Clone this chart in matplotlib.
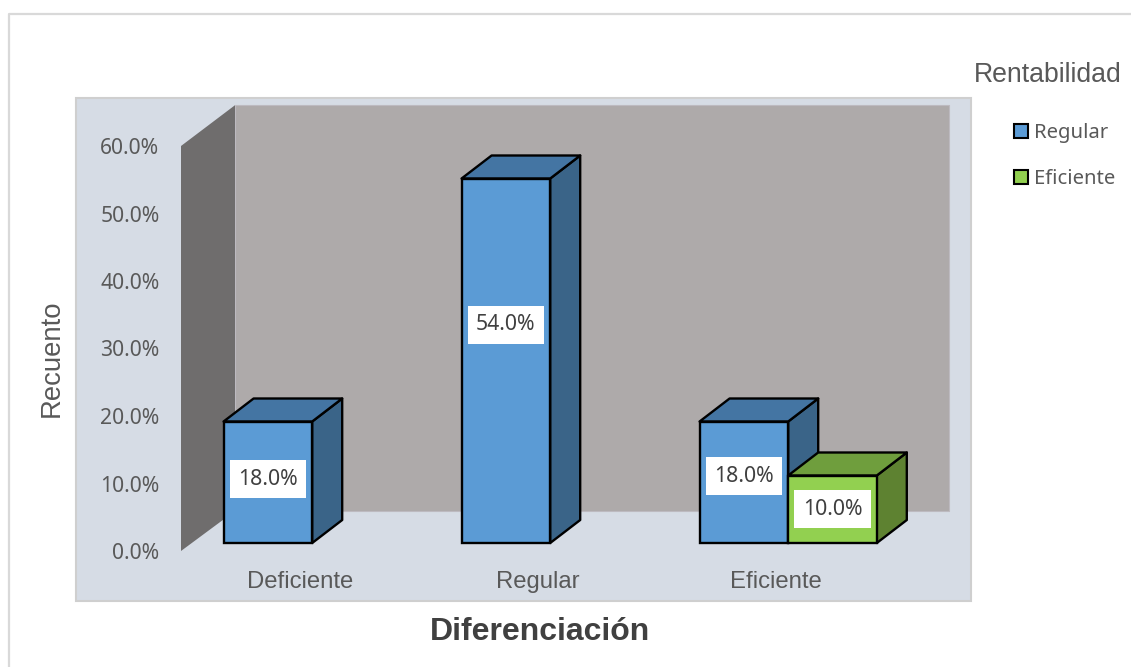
import matplotlib
matplotlib.use("Agg")
import matplotlib.pyplot as plt
from matplotlib.patches import Patch, Rectangle

categories = ["Deficiente", "Regular", "Eficiente"]
regular = [18.0, 54.0, 18.0]
eficiente = [None, None, 10.0]
yticks = [0, 10, 20, 30, 40, 50, 60]
series_names = ["Regular", "Eficiente"]

W, H = 1131, 667
PX_X = 238.0      # pixels per category
PX_Y = 6.75       # pixels per percent

SANS = "Liberation Sans"
NARROW = "Noto Sans"
GREY = "#595959"

fig = plt.figure(figsize=(W / 100, H / 100), dpi=100, facecolor="white")


def fx(p):
    return p / W


def fy(p):
    return 1 - p / H


# outer chart frame (runs off the top right and bottom left)
fig.add_artist(plt.Line2D([fx(9), fx(9), 1], [0, fy(14), fy(14)], color="#D9D9D9", lw=1.6, zorder=-2))
# plot panel
fig.add_artist(Rectangle((fx(76), fy(601)), 895 / W, 503 / H, transform=fig.transFigure,
                         facecolor="#D6DCE5", edgecolor="#CFCFCF", lw=1.5, zorder=-1))

ax = fig.add_axes([fx(181), fy(551), 714 / W, (60 * PX_Y) / H])
ax.set_xlim(-0.5, 2.5)
ax.set_ylim(0, 60)
ax.patch.set_visible(False)
for s in ax.spines.values():
    s.set_visible(False)

# depth of the chart walls and of the bars, in data units
wall_dx, wall_dy = 54 / PX_X, 40 / PX_Y
bar_dx, bar_dy = 30 / PX_X, 23 / PX_Y
lift_x, lift_y = 12.2 / PX_X, 8 / PX_Y
bw = 88.6 / PX_X

# walls
ax.fill([-0.5 + wall_dx, 2.5 + wall_dx, 2.5 + wall_dx, -0.5 + wall_dx],
        [wall_dy, wall_dy, 60 + wall_dy + 0.12, 60 + wall_dy + 0.12],
        facecolor="#AEAAAA", edgecolor="#BDBAC0", lw=0.8, clip_on=False, zorder=1)
ax.fill([-0.5, -0.5 + wall_dx, -0.5 + wall_dx, -0.5],
        [0, wall_dy, 60 + wall_dy + 0.12, 60],
        facecolor="#6F6D6D", edgecolor="none", clip_on=False, zorder=1.1)


def bar3d(x, v, front, top, side, z):
    left = x + lift_x - bw / 2
    right = left + bw
    base = lift_y
    kw = dict(edgecolor="black", lw=1.7, joinstyle="round", clip_on=False, zorder=z)
    ax.fill([right, right + bar_dx, right + bar_dx, right],
            [base, base + bar_dy, base + v + bar_dy, base + v], facecolor=side, **kw)
    ax.fill([left, left + bar_dx, right + bar_dx, right],
            [base + v, base + v + bar_dy, base + v + bar_dy, base + v], facecolor=top, **kw)
    ax.bar(x + lift_x, v, bw, bottom=base, color=front, edgecolor="black", lw=1.7,
           clip_on=False, zorder=z + 0.01)


for i, v in enumerate(regular):
    x = i - bw / 2
    bar3d(x, v, "#5B9BD5", "#4475A3", "#3A6488", 3 + i)
for i, v in enumerate(eficiente):
    if v is not None:
        x = i + bw / 2
        bar3d(x, v, "#92D050", "#6F9E3D", "#5E8231", 3.5 + i)

# data labels: moved by hand off the bar centres, as in the reference
label_shift = {("r", 0): 3, ("r", 1): 36, ("r", 2): 6, ("e", 2): 0}
for key, vals, sign in (("r", regular, -1), ("e", eficiente, 1)):
    for i, v in enumerate(vals):
        if v is None:
            continue
        x = i + sign * bw / 2 + lift_x
        ax.annotate(f"{v:.1f}%", xy=(x, lift_y + v / 2), xytext=(0, label_shift[(key, i)]),
                    textcoords="offset pixels", ha="center", va="center",
                    fontsize=15.3, family=NARROW, color="#404040", zorder=20,
                    bbox=dict(boxstyle="square,pad=0.4", facecolor="white", edgecolor="none"))

ax.set_yticks(yticks, [f"{t:.1f}%" for t in yticks], family=NARROW, fontsize=15.2, color=GREY)
ax.set_xticks(range(3), categories, family=SANS, fontsize=17.2, color=GREY)
ax.tick_params(axis="y", length=0, pad=15.5)
ax.tick_params(axis="x", length=0, pad=14.5)

ax.set_ylabel("Recuento", family=SANS, fontsize=19.8, color=GREY)
ax.yaxis.set_label_coords(fx(52), fy(358), transform=fig.transFigure)
ax.set_xlabel("Diferenciación", family=SANS, fontsize=23, fontweight="bold", color="#404040")
ax.xaxis.set_label_coords(fx(540), fy(632), transform=fig.transFigure)
ax.xaxis.label.set_verticalalignment("center")
ax.yaxis.label.set_verticalalignment("center")

# legend
fig.text(fx(1048), fy(75), "Rentabilidad", family=SANS, fontsize=19.2, color=GREY, ha="center", va="center")
handles = [Patch(facecolor="#5B9BD5", edgecolor="black", lw=1.5),
           Patch(facecolor="#92D050", edgecolor="black", lw=1.5)]
fig.legend(handles, series_names, loc="upper left", bbox_to_anchor=(fx(1014), fy(123)),
           frameon=False, handlelength=0.68, handleheight=0.72, handletextpad=0.3,
           labelspacing=1.28, borderpad=0, borderaxespad=0,
           prop={"family": NARROW, "size": 14.6}, labelcolor=GREY)

fig.savefig("out.png", dpi=100, facecolor="white")
